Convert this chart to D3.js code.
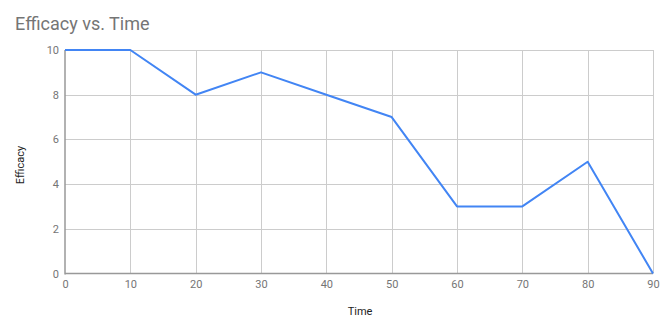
<!DOCTYPE html>
<html>
<head>
<meta charset="utf-8">
<script src="https://cdn.jsdelivr.net/npm/d3@7"></script>
<style>
  html, body { margin: 0; padding: 0; background: #fff; }
  svg { display: block; font-family: Roboto, "Noto Sans", Arial, sans-serif; }
</style>
</head>
<body>
<svg id="chart" width="668" height="332"></svg>
<script>
const times = [0, 10, 20, 30, 40, 50, 60, 70, 80, 90];
const efficacy = [10, 10, 8, 9, 8, 7, 3, 3, 5, 0];
const xTicks = [0, 10, 20, 30, 40, 50, 60, 70, 80, 90];
const yTicks = [0, 2, 4, 6, 8, 10];
const title = "Efficacy vs. Time";
const xTitle = "Time";
const yTitle = "Efficacy";

(function () {
const svg = d3.select("#chart");
const pL = 65, pR = 653, pT = 50, pB = 273.5;
const x = d3.scaleLinear().domain([0, 90]).range([pL, pR]);
const y = d3.scaleLinear().domain([0, 10]).range([pB, pT]);

svg.append("text").attr("x", 15).attr("y", 30)
  .attr("font-size", 18).attr("fill", "#757575").text(title);

// gridlines
svg.append("g").selectAll("line").data(xTicks.filter(d => d !== 0)).join("line")
  .attr("x1", d => Math.round(x(d)) + 0.5).attr("x2", d => Math.round(x(d)) + 0.5).attr("y1", pT).attr("y2", pB)
  .attr("stroke", "#cccccc").attr("stroke-width", 1);
svg.append("g").selectAll("line").data(yTicks.filter(d => d !== 0)).join("line")
  .attr("x1", pL).attr("x2", pR).attr("y1", d => Math.round(y(d)) + 0.5).attr("y2", d => Math.round(y(d)) + 0.5)
  .attr("stroke", "#cccccc").attr("stroke-width", 1);

// axes
const xAxis = d3.axisBottom(x).tickValues(xTicks).tickSize(0).tickPadding(7);
const gx = svg.append("g").attr("transform", `translate(0,${pB})`).call(xAxis);
gx.select(".domain").remove();
gx.selectAll("text").attr("font-size", 11).attr("fill", "#757575").attr("font-family", "Roboto, sans-serif");

const yAxis = d3.axisLeft(y).tickValues(yTicks).tickSize(0).tickPadding(6);
const gy = svg.append("g").attr("transform", `translate(${pL},0)`).call(yAxis);
gy.select(".domain").remove();
gy.selectAll("text").attr("font-size", 11).attr("fill", "#757575").attr("font-family", "Roboto, sans-serif");

svg.append("line").attr("x1", pL).attr("x2", pL).attr("y1", pT).attr("y2", pB + 1)
  .attr("stroke", "#999999").attr("stroke-width", 1.5);
svg.append("line").attr("x1", pL).attr("x2", pR).attr("y1", pB).attr("y2", pB)
  .attr("stroke", "#999999").attr("stroke-width", 1.5);

// line
const line = d3.line().x((d, i) => x(times[i])).y(d => y(d));
svg.append("path").datum(efficacy).attr("d", line)
  .attr("fill", "none").attr("stroke", "#4285f4").attr("stroke-width", 2)
  .attr("stroke-linejoin", "round");

// axis titles
svg.append("text").attr("x", 360).attr("y", 315).attr("text-anchor", "middle")
  .attr("font-size", 11).attr("fill", "#222").text(xTitle);
svg.append("text").attr("transform", `translate(24,165) rotate(-90)`).attr("text-anchor", "middle")
  .attr("font-size", 11).attr("fill", "#222").text(yTitle);
})();
</script>
</body>
</html>
